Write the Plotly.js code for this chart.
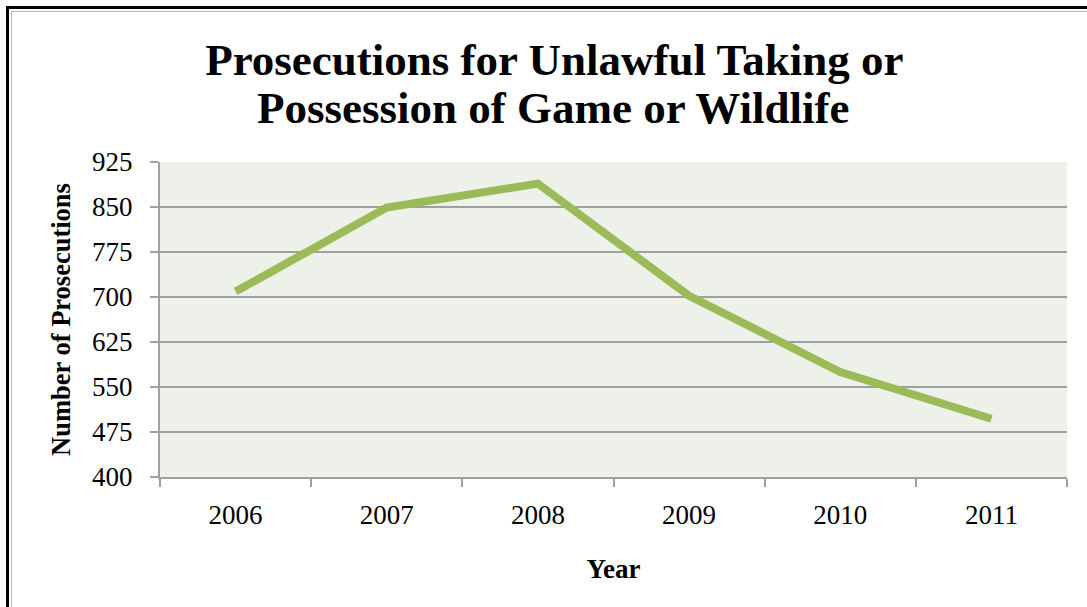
<!DOCTYPE html>
<html>
<head>
<meta charset="utf-8">
<script src="https://cdn.plot.ly/plotly-3.0.1.min.js"></script>
<style>
  html, body { margin: 0; padding: 0; background: #ffffff; }
  #wrap { position: relative; width: 1087px; height: 607px; overflow: hidden; }
  #frame { position: absolute; left: 6px; top: 6px; width: 1200px; height: 700px;
           border-left: 3px solid #000; border-top: 3px solid #000; box-sizing: border-box; }
  #inner { position: absolute; left: 11px; top: 11px; width: 1200px; height: 700px;
           border-left: 1px solid #b8b8b8; border-top: 1px solid #b8b8b8; box-sizing: border-box; }
  #chart { position: absolute; left: 0; top: 0; width: 1087px; height: 607px; }
</style>
</head>
<body>
<div id="wrap">
  <div id="chart"></div>
  <div id="frame"></div>
  <div id="inner"></div>
</div>
<script>
const years = ["2006", "2007", "2008", "2009", "2010", "2011"];
const prosecutions = [709, 849, 889, 702, 575, 497];
const yTicks = [400, 475, 550, 625, 700, 775, 850, 925];
const titleLines = ["Prosecutions for Unlawful Taking or", "Possession of Game or Wildlife"];

const serif = "Liberation Serif, Times New Roman, serif";

const trace = {
  x: years,
  y: prosecutions,
  type: "scatter",
  mode: "lines",
  line: { color: "#9bbb59", width: 8 },
  hoverinfo: "x+y"
};

const layout = {
  width: 1087,
  height: 607,
  margin: { l: 160, r: 20, t: 162, b: 130 },
  paper_bgcolor: "rgba(0,0,0,0)",
  plot_bgcolor: "#eef0ea",
  showlegend: false,
  title: {
    text: "<b>" + titleLines[0] + "</b>",
    font: { family: serif, size: 45, color: "#000" },
    x: 0.51, xref: "container", xanchor: "center",
    y: 0.902, yref: "container", yanchor: "middle"
  },
  annotations: [{
    text: "<b>" + titleLines[1] + "</b>",
    font: { family: serif, size: 45, color: "#000" },
    xref: "paper", yref: "paper",
    x: 0.434, y: 1.171, xanchor: "center", yanchor: "middle",
    showarrow: false
  }],
  xaxis: {
    type: "category",
    range: [-0.5, 5.5],
    tickson: "boundaries",
    ticks: "outside",
    ticklen: 8,
    tickcolor: "#a0a0a0",
    tickwidth: 2,
    showgrid: false,
    showline: true,
    linecolor: "#a0a0a0",
    linewidth: 2,
    tickfont: { family: serif, size: 27, color: "#000" },
    ticklabelstandoff: 13,
    title: { text: "<b>Year</b>", font: { family: serif, size: 27, color: "#000" }, standoff: 30 },
    fixedrange: true
  },
  yaxis: {
    range: [400, 925],
    tickvals: yTicks,
    ticktext: yTicks.map(String),
    ticks: "outside",
    ticklen: 8,
    tickcolor: "#a0a0a0",
    tickwidth: 2,
    showgrid: true,
    gridcolor: "#a0a0a0",
    gridwidth: 2,
    zeroline: false,
    showline: true,
    linecolor: "#a0a0a0",
    linewidth: 2,
    tickfont: { family: serif, size: 27, color: "#000" },
    ticklabelstandoff: 12,
    title: { text: "<b>Number of Prosecutions</b>", font: { family: serif, size: 26.5, color: "#000" }, standoff: 14 },
    fixedrange: true
  }
};

Plotly.newPlot("chart", [trace], layout, { displayModeBar: false, staticPlot: true });
</script>
</body>
</html>
